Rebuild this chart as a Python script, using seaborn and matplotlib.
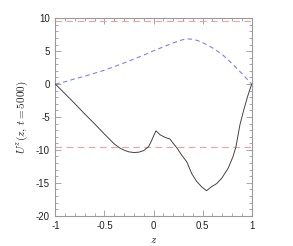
import numpy as np
import pandas as pd
import matplotlib
matplotlib.use("Agg")
import matplotlib.pyplot as plt
import seaborn as sns
from matplotlib.ticker import MultipleLocator

z_black = [-1, -0.9, -0.8, -0.7, -0.6, -0.5, -0.4, -0.34, -0.29, -0.25, -0.2, -0.15, -0.1,
           -0.05, -0.02, 0.0, 0.025, 0.066, 0.117, 0.168, 0.2, 0.236, 0.287, 0.338, 0.389,
           0.44, 0.49, 0.54, 0.59, 0.645, 0.695, 0.76, 0.81, 0.84, 0.88, 0.92, 0.96, 1.0]
u_black = [0.0, -1.5, -3.0, -4.55, -6.05, -7.6, -9.1, -9.75, -10.1, -10.3, -10.4, -10.35, -10.1,
           -9.5, -8.6, -7.9, -7.1, -7.7, -8.1, -8.35, -9.0, -9.65, -10.8, -11.8, -13.6,
           -14.8, -15.6, -16.2, -15.6, -15.1, -14.3, -12.8, -11.0, -9.5, -6.2, -3.9, -1.8, 0.0]

z_blue = [-1, -0.9, -0.8, -0.7, -0.6, -0.5, -0.4, -0.3, -0.2, -0.1, 0.0, 0.1, 0.2, 0.3,
          0.35, 0.4, 0.45, 0.5, 0.6, 0.7, 0.8, 0.9, 1.0]
u_blue = [0.0, 0.35, 0.8, 1.2, 1.65, 2.1, 2.65, 3.2, 3.8, 4.4, 5.05, 5.65, 6.25, 6.75,
          6.85, 6.8, 6.6, 6.3, 5.5, 4.5, 3.1, 1.6, 0.0]

ref_levels = [9.6, -9.6]

x_ticks = [-1, -0.5, 0, 0.5, 1]
x_labels = ["-1", "-0.5", "0", "0.5", "1"]
y_ticks = [-20, -15, -10, -5, 0, 5, 10]
y_labels = ["-20", "-15", "-10", "-5", "0", "5", "10"]

sns.set_style("ticks")
plt.rcParams["font.family"] = ["Liberation Sans", "DejaVu Sans"]
plt.rcParams["mathtext.fontset"] = "cm"

fig = plt.figure(figsize=(2.93, 2.46), dpi=100)
ax = fig.add_axes([0.189, 0.123, 0.670, 0.803])

for lvl in ref_levels:
    ax.axhline(lvl, color="#f4a0a0", lw=0.8, ls=(0, (6, 4)), zorder=1)

df_b = pd.DataFrame({"z": z_blue, "u": u_blue})
sns.lineplot(data=df_b, x="z", y="u", ax=ax, color="#7f7fff", lw=0.8,
             linestyle=(0, (4, 3)), sort=False, zorder=2)
df_k = pd.DataFrame({"z": z_black, "u": u_black})
sns.lineplot(data=df_k, x="z", y="u", ax=ax, color="#444444", lw=0.7, sort=False, zorder=3)

ax.set_xlim(-1, 1)
ax.set_ylim(-20, 10)
ax.set_xticks(x_ticks)
ax.set_xticklabels(x_labels)
ax.set_yticks(y_ticks)
ax.set_yticklabels(y_labels)
ax.xaxis.set_minor_locator(MultipleLocator(0.1))
ax.yaxis.set_minor_locator(MultipleLocator(1))
ax.tick_params(which="both", direction="in", top=True, right=True, colors="#999999",
               labelcolor="#222222", labelsize=7, width=0.6)
ax.tick_params(which="major", length=4, pad=4)
ax.tick_params(which="minor", length=2)
for s in ax.spines.values():
    s.set_color("#999999")
    s.set_linewidth(0.8)

ax.set_xlabel("$z$", fontsize=8, labelpad=3)
ax.set_ylabel("$U^z(z,\\, t=5000)$", fontsize=8, labelpad=4)

fig.savefig("out.png", dpi=100)
